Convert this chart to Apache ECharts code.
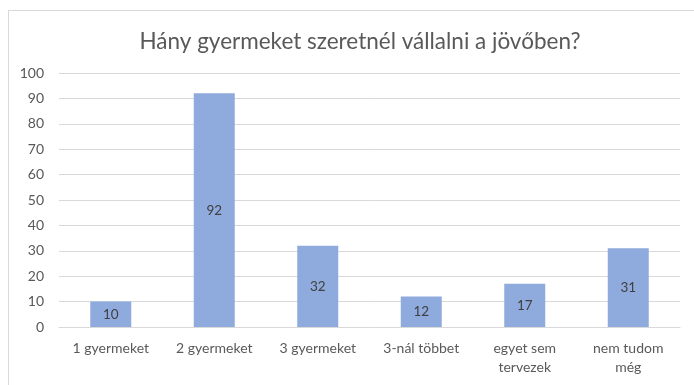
<!DOCTYPE html>
<html>
<head>
<meta charset="utf-8">
<script src="https://cdn.jsdelivr.net/npm/echarts@6/dist/echarts.min.js"></script>
<style>
  html, body { margin: 0; padding: 0; background: #ffffff; }
  #frame { position: absolute; left: 8px; top: 10px; width: 700px; height: 400px; border: 1px solid #d9d9d9; box-sizing: border-box; }
  #chart { position: absolute; left: 0; top: 0; width: 694px; height: 385px; }
</style>
</head>
<body>
<div id="frame"></div>
<div id="chart"></div>
<script>
// Survey answers: how many children the respondent plans to have
const categories = ['1 gyermeket', '2 gyermeket', '3 gyermeket', '3-nál többet', 'egyet sem\ntervezek', 'nem tudom\nmég'];
const counts = [10, 92, 32, 12, 17, 31];
const yTicks = { min: 0, max: 100, interval: 10 };

const chart = echarts.init(document.getElementById('chart'), null, { renderer: 'canvas' });
const fontFamily = 'Lato, "Open Sans", sans-serif';

chart.setOption({
  animation: false,
  backgroundColor: 'transparent',
  title: {
    text: 'Hány gyermeket szeretnél vállalni a jövőben?',
    left: 355,
    textAlign: 'center',
    top: 25,
    textStyle: { fontFamily: fontFamily, fontSize: 22.5, fontWeight: 400, color: '#595959' }
  },
  grid: { left: 59, right: 14, top: 73, bottom: 58, containLabel: false },
  xAxis: {
    type: 'category',
    data: categories,
    axisLine: { lineStyle: { color: '#d9d9d9' } },
    axisTick: { show: false },
    axisLabel: { color: '#595959', fontFamily: fontFamily, fontSize: 14, margin: 12, lineHeight: 19, interval: 0 }
  },
  yAxis: {
    type: 'value',
    min: yTicks.min,
    max: yTicks.max,
    interval: yTicks.interval,
    axisLine: { show: false },
    axisTick: { show: false },
    splitLine: { lineStyle: { color: '#d9d9d9' } },
    axisLabel: { color: '#595959', fontFamily: fontFamily, fontSize: 14, margin: 15 }
  },
  series: [{
    type: 'bar',
    data: counts,
    barWidth: 41,
    itemStyle: { color: '#8faadc' },
    label: {
      show: true,
      position: 'inside',
      color: '#404040',
      fontFamily: fontFamily,
      fontSize: 13.5
    }
  }]
});
</script>
</body>
</html>
